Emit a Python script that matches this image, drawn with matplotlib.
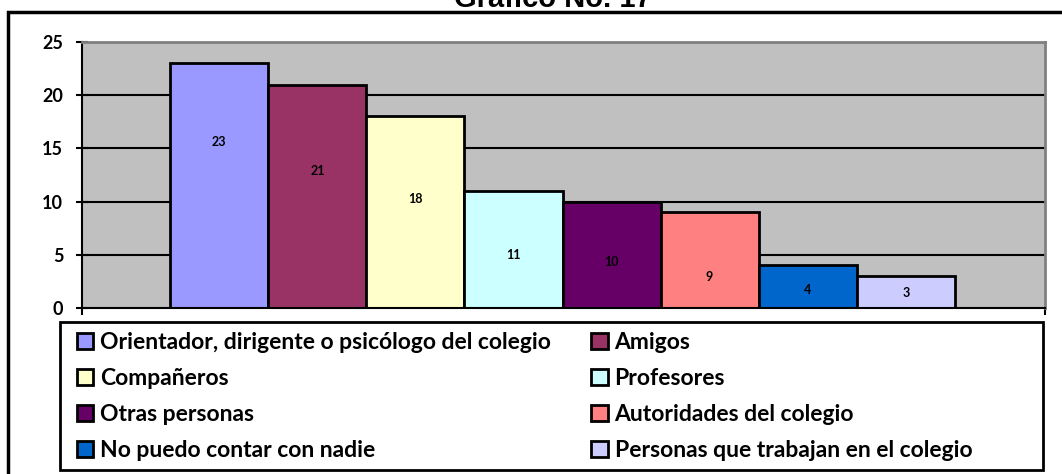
import matplotlib
matplotlib.use('Agg')
import matplotlib.pyplot as plt
from matplotlib.patches import Rectangle

categories = ['Orientador, dirigente o psicólogo del colegio', 'Amigos',
              'Compañeros', 'Profesores', 'Otras personas',
              'Autoridades del colegio', 'No puedo contar con nadie',
              'Personas que trabajan en el colegio']
values = [23, 21, 18, 11, 10, 9, 4, 3]
colors = ['#9999FF', '#993366', '#FFFFCC', '#CCFFFF', '#660066',
          '#FF8080', '#0066CC', '#CCCCFF']
yticks = [0, 5, 10, 15, 20, 25]
# where the value labels sit
label_y = [15.6, 12.9, 10.2, 5.0, 4.3, 2.9, 1.7, 1.4]

plt.rcParams['font.family'] = ['Lato', 'DejaVu Sans']

fig = plt.figure(figsize=(10.62, 4.74), dpi=100)
ax = fig.add_axes([82/1062, 1-308/474, (1045-82)/1062, (308-42)/474])
ax.set_facecolor('#C0C0C0')

x = list(range(len(values)))
bars = ax.bar(x, values, width=1.0, color=colors, edgecolor='black',
              linewidth=2, zorder=3)
for xi, v, ly in zip(x, values, label_y):
    ax.text(xi, ly, str(v), ha='center', va='center', fontsize=9,
            fontweight='bold', zorder=4)

ax.set_xlim(-1.4, 8.42)
ax.set_ylim(0, 25)
ax.set_yticks(yticks)
ax.set_yticklabels([str(t) for t in yticks], fontsize=13, fontweight='bold')
ax.tick_params(axis='y', direction='inout', length=9, width=1.5, pad=9)
ax.set_xticks([-1.4, 8.42])
ax.set_xticklabels([])
ax.tick_params(axis='x', direction='out', length=5, width=1.5)
for t in [5, 10, 15, 20]:
    ax.axhline(t, color='black', linewidth=1.5, zorder=2)
ax.spines['top'].set_color('#808080')
ax.spines['right'].set_color('#808080')
ax.spines['top'].set_linewidth(2)
ax.spines['right'].set_linewidth(2)
ax.spines['left'].set_linewidth(1.5)
ax.spines['bottom'].set_linewidth(1.5)
ax.spines['bottom'].set_zorder(5)

# outer chart frame (cut off on right and bottom)
fig.patches.append(Rectangle((8/1062, -0.1), 1.2, 1.1 - 12/474,
                             transform=fig.transFigure, fill=False,
                             edgecolor='black', linewidth=2.5))
# legend box
fig.patches.append(Rectangle((60/1062, 1-470/474), (1043-60)/1062, (470-322)/474,
                             transform=fig.transFigure, fill=False,
                             edgecolor='black', linewidth=2))

fig.text(553/1062, 1-7/474, 'Gráfico No. 17', ha='center', va='baseline',
         fontsize=21, fontweight='bold', family=['Liberation Sans', 'DejaVu Sans'])

order = [0, 2, 4, 6, 1, 3, 5, 7]
leg = fig.legend([bars[i] for i in order], [categories[i] for i in order],
                 ncol=2, loc='upper left',
                 bbox_to_anchor=(70/1062, 1-325/474),
                 prop={'size': 16.5, 'weight': 'bold'}, frameon=False,
                 handlelength=0.72, handleheight=0.72, handletextpad=0.3,
                 columnspacing=1.75, labelspacing=0.66, borderaxespad=0,
                 borderpad=0.3)

fig.savefig('out.png', dpi=100)
